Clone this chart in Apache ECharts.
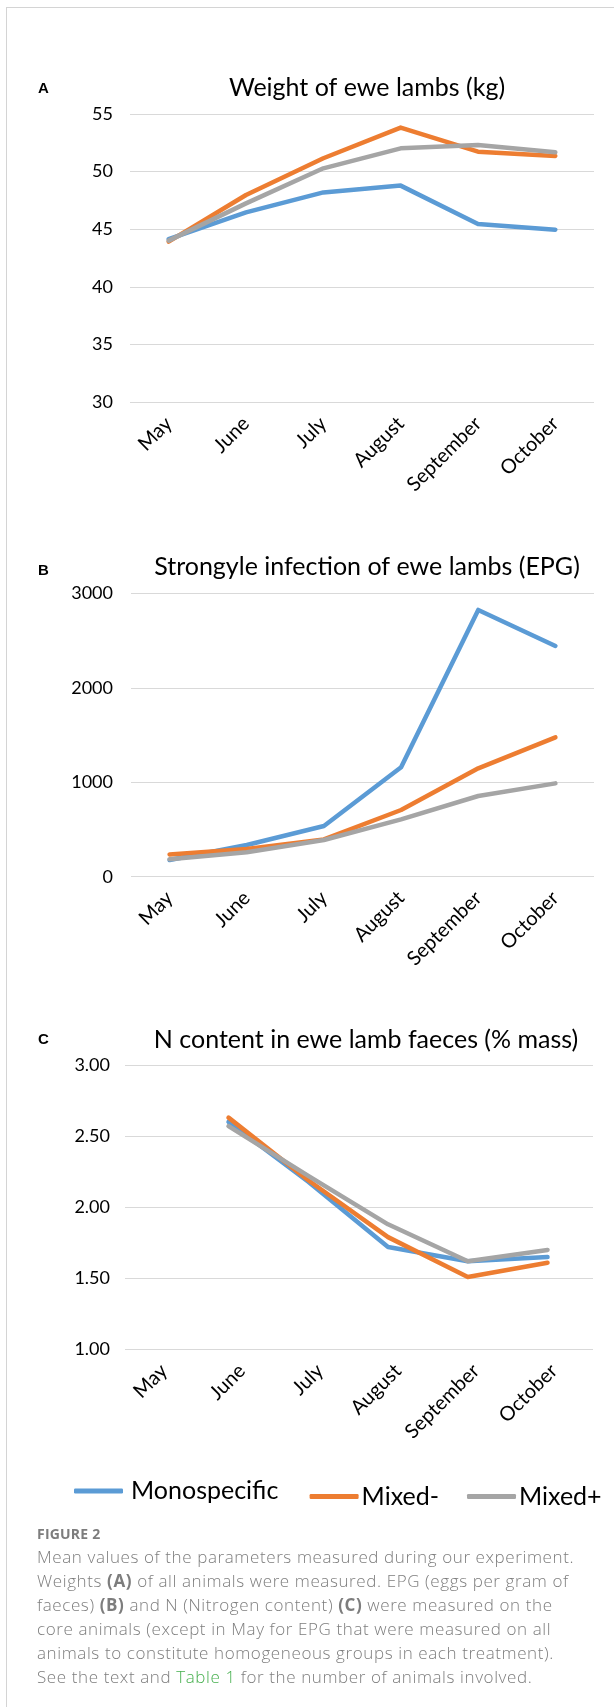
<!DOCTYPE html>
<html>
<head>
<meta charset="utf-8">
<script src="https://cdn.jsdelivr.net/npm/echarts@6/dist/echarts.min.js"></script>
<style>
  html, body { margin: 0; padding: 0; background: #fff; }
  #wrap { position: relative; width: 614px; height: 1707px; overflow: hidden; }
  #chart { position: absolute; left: 0; top: 0; width: 614px; height: 1707px; }
  #frame { position: absolute; left: 6px; top: 7px; right: -2px; bottom: -2px;
           border-left: 1px solid #d4d4d4; border-top: 1px solid #d4d4d4; pointer-events: none; }
  #caption { position: absolute; left: 37px; top: 1525px; width: 575px; color: #7d7d7d;
             font-family: "Open Sans", "Lato", sans-serif; }
  #caption .fig { font-weight: 700; font-size: 14px; line-height: 18px; height: 20px; letter-spacing: 0.2px; }
  #caption .txt { font-size: 17px; font-weight: 300; line-height: 24.1px; white-space: nowrap; letter-spacing: 0.6px; }
  #caption b { font-weight: 700; }
  #caption .link { color: #47b04f; }
</style>
</head>
<body>
<div id="wrap">
  <div id="chart"></div>
  <div id="frame"></div>
  <div id="caption">
    <div class="fig">FIGURE 2</div>
    <div class="txt">Mean values of the parameters measured during our experiment.<br>Weights <b>(A)</b> of all animals were measured. EPG (eggs per gram of<br>faeces) <b>(B)</b> and N (Nitrogen content) <b>(C)</b> were measured on the<br>core animals (except in May for EPG that were measured on all<br>animals to constitute homogeneous groups in each treatment).<br>See the text and <span class="link">Table 1</span> for the number of animals involved.</div>
  </div>
</div>
<script>
// ---- data ----
const months = ['May', 'June', 'July', 'August', 'September', 'October'];
const seriesNames = ['Monospecific', 'Mixed-', 'Mixed+'];

const weightMono        = [44.16, 46.47, 48.20, 48.79, 45.46, 44.97];
const weightMixedMinus  = [43.93, 47.98, 51.16, 53.82, 51.73, 51.36];
const weightMixedPlus   = [44.02, 47.25, 50.29, 52.02, 52.31, 51.68];

const epgMono           = [176, 335, 537, 1158, 2824, 2443];
const epgMixedMinus     = [236, 293, 395, 706, 1147, 1475];
const epgMixedPlus      = [184, 258, 388, 607, 854, 988];

const nMono             = [null, 2.60, 2.18, 1.72, 1.62, 1.65];
const nMixedMinus       = [null, 2.63, 2.19, 1.79, 1.51, 1.61];
const nMixedPlus        = [null, 2.57, 2.22, 1.88, 1.62, 1.70];

const titles = ['Weight of ewe lambs (kg)', 'Strongyle infection of ewe lambs (EPG)', 'N content in ewe lamb faeces (% mass)'];
const panelLetters = ['A', 'B', 'C'];

// ---- styling ----
const colors = ['#5B9BD5', '#ED7D31', '#A5A5A5'];
const FONT = 'Lato, "Open Sans", sans-serif';

const chart = echarts.init(document.getElementById('chart'), null, { renderer: 'canvas' });

function yAxisDef(gridIndex, min, max, interval, margin, fmt) {
  return {
    type: 'value', gridIndex, min, max, interval,
    axisLine: { show: false }, axisTick: { show: false },
    axisLabel: { color: '#000', fontFamily: FONT, fontSize: 18, margin, formatter: fmt },
    splitLine: { show: true, lineStyle: { color: '#d9d9d9', width: 1.2 } }
  };
}
function xAxisDef(gridIndex, show) {
  return {
    type: 'category', gridIndex, data: months, boundaryGap: true, show,
    axisLine: { show: false }, axisTick: { show: false },
    axisLabel: { color: '#000', fontFamily: FONT, fontSize: 20, rotate: 45, margin: 18, interval: 0 },
    splitLine: { show: false }
  };
}
function lineSeries(name, idx, axisIdx, data) {
  return {
    name, type: 'line', xAxisIndex: axisIdx, yAxisIndex: axisIdx, data,
    symbol: 'none', showSymbol: false, connectNulls: false,
    lineStyle: { color: colors[idx], width: 4.5, cap: 'round', join: 'round' },
    itemStyle: { color: colors[idx] },
    emphasis: { disabled: true }, silent: true, animation: false
  };
}

const titleCenters = [[367, 88], [367, 567], [366, 1039.5]];
const letterCenters = [[43.5, 89], [43.5, 571], [43.5, 1040]];

const titleList = [];
titles.forEach((t, i) => {
  titleList.push({
    text: t, left: titleCenters[i][0], top: titleCenters[i][1] - 15, textAlign: 'center', padding: 0,
    textStyle: { fontFamily: FONT, fontSize: 25, fontWeight: 'normal', color: '#000', lineHeight: 30 }
  });
  titleList.push({
    text: panelLetters[i], left: letterCenters[i][0], top: letterCenters[i][1] - 8, textAlign: 'center', padding: 0,
    textStyle: { fontFamily: '"Liberation Sans", Arial, sans-serif', fontSize: 15, fontWeight: 'bold', color: '#000', lineHeight: 16 }
  });
});

const legendPos = [[74, 1491], [309.6, 1496.5], [467, 1496.5]];
const legends = seriesNames.map((n, i) => ({
  data: [n], left: legendPos[i][0], top: legendPos[i][1] - 15, orient: 'horizontal',
  icon: 'roundRect', itemWidth: 49, itemHeight: 5, padding: 0, selectedMode: false,
  textStyle: { fontFamily: FONT, fontSize: 25, color: '#000', lineHeight: 30, padding: [0, 0, 0, i === 0 ? 3 : -2] }
}));

const option = {
  animation: false,
  backgroundColor: 'transparent',
  title: titleList,
  legend: legends,
  grid: [
    { left: 130, width: 464, top: 114, height: 288.3 },        // A
    { left: 131, width: 463, top: 593.3, height: 283.4 },      // B
    { left: 125, width: 468, top: 1065, height: 284.5 },       // C axes
    { left: 108.9, width: 478.5, top: 1065, height: 284.5 }    // C data placement
  ],
  xAxis: [xAxisDef(0, true), xAxisDef(1, true), xAxisDef(2, true), xAxisDef(3, false)],
  yAxis: [
    yAxisDef(0, 30, 55, 5, 17),
    yAxisDef(1, 0, 3000, 1000, 18, v => String(v)),
    yAxisDef(2, 1, 3, 0.5, 15, v => v.toFixed(2)),
    { type: 'value', gridIndex: 3, min: 1, max: 3, interval: 0.5, show: false, splitLine: { show: false } }
  ],
  series: [
    lineSeries(seriesNames[0], 0, 0, weightMono),
    lineSeries(seriesNames[1], 1, 0, weightMixedMinus),
    lineSeries(seriesNames[2], 2, 0, weightMixedPlus),
    lineSeries(seriesNames[0], 0, 1, epgMono),
    lineSeries(seriesNames[1], 1, 1, epgMixedMinus),
    lineSeries(seriesNames[2], 2, 1, epgMixedPlus),
    lineSeries(seriesNames[0], 0, 3, nMono),
    lineSeries(seriesNames[1], 1, 3, nMixedMinus),
    lineSeries(seriesNames[2], 2, 3, nMixedPlus)
  ]
};
chart.setOption(option);
</script>
</body>
</html>
